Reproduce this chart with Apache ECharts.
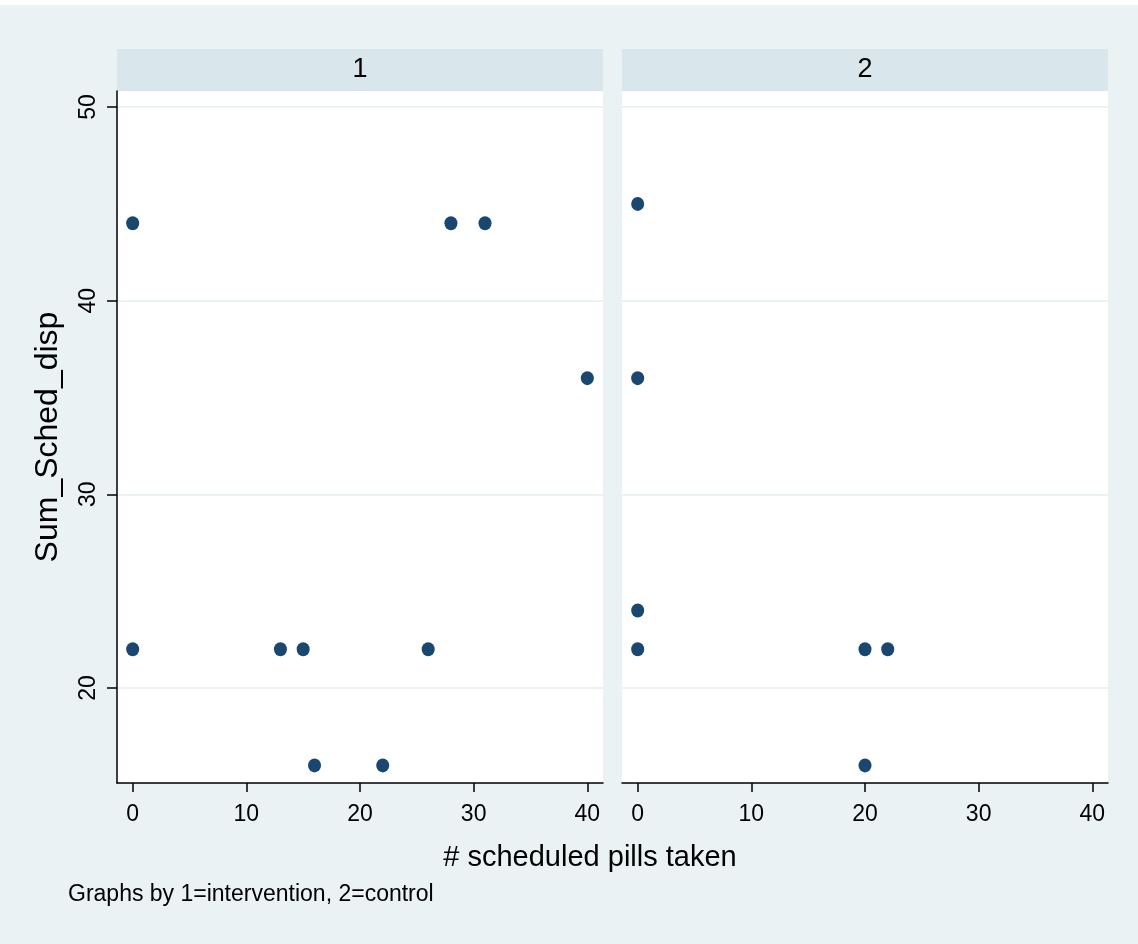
<!DOCTYPE html>
<html>
<head>
<meta charset="utf-8">
<script src="https://cdn.jsdelivr.net/npm/echarts@6/dist/echarts.min.js"></script>
<style>
html,body{margin:0;padding:0;background:#ffffff;}
#wrap{position:absolute;left:0;top:0;width:1138px;height:944px;background:#ffffff;}
#chart{position:absolute;left:0;top:5px;width:1138px;height:939px;}
</style>
</head>
<body>
<div id="wrap"><div id="chart"></div></div>
<script>
// Panel labels
const panels = ['1', '2'];
// Panel 1 (intervention): x = # scheduled pills taken, y = Sum_Sched_disp
const interventionX = [0, 28, 31, 40, 0, 13, 15, 26, 16, 22];
const interventionY = [44, 44, 44, 36, 22, 22, 22, 22, 16, 16];
// Panel 2 (control)
const controlX = [0, 0, 0, 0, 20, 22, 20];
const controlY = [45, 36, 24, 22, 22, 22, 16];
// Tick labels
const xTicks = [0, 10, 20, 30, 40];
const yTicks = [20, 30, 40, 50];
const xTitle = '# scheduled pills taken';
const yTitle = 'Sum_Sched_disp';
const note = 'Graphs by 1=intervention, 2=control';

const FONT = '"Liberation Sans", Arial, Helvetica, sans-serif';
const BG = '#eaf2f3';
const STRIP = '#d9e6eb';
const MARK = '#1a476f';

const chart = echarts.init(document.getElementById('chart'), null, {renderer: 'canvas'});

const gridTop = 86, gridH = 692, gridW = 486;
const lefts = [117, 622];

function xAxisFor(i) {
  return {
    type: 'value', gridIndex: i, min: -1.38, max: 41.38,
    axisLine: {show: true, onZero: false, lineStyle: {color: '#000', width: 1.5}},
    axisTick: {show: true, length: 9, customValues: xTicks, lineStyle: {color: '#000', width: 1.5}},
    axisLabel: {show: true, customValues: xTicks, margin: 20, color: '#000', fontFamily: FONT, fontSize: 23},
    splitLine: {show: false}
  };
}
function yAxisFor(i) {
  return {
    type: 'value', gridIndex: i, min: 15.09, max: 50.83,
    axisLine: {show: i === 0, onZero: false, lineStyle: {color: '#000', width: 1.5}},
    axisTick: {show: i === 0, length: 10, customValues: yTicks, lineStyle: {color: '#000', width: 1.5}},
    axisLabel: {show: i === 0, customValues: yTicks, rotate: 90, margin: 17, color: '#000', fontFamily: FONT, fontSize: 23},
    splitLine: {show: true, lineStyle: {color: BG, width: 2}},
    name: i === 0 ? yTitle : '',
    nameLocation: 'middle', nameGap: 53, nameRotate: 90,
    nameTextStyle: {color: '#000', fontFamily: FONT, fontSize: 32}
  };
}

const option = {
  backgroundColor: BG,
  animation: false,
  grid: lefts.map(l => ({left: l, top: gridTop, width: gridW, height: gridH, show: true, backgroundColor: '#ffffff', borderWidth: 0})),
  xAxis: [xAxisFor(0), xAxisFor(1)],
  yAxis: [yAxisFor(0), yAxisFor(1)],
  graphic: [
    ...lefts.map((l, i) => ({type: 'rect', left: l, top: 44, shape: {width: gridW, height: 42}, style: {fill: STRIP}, z: 0})),
    ...lefts.map((l, i) => ({type: 'text', x: l + gridW / 2, y: 65, style: {text: panels[i], fill: '#000', font: '27px ' + FONT, align: 'center', verticalAlign: 'middle'}, z: 1})),
    {type: 'text', x: 590, y: 853, style: {text: xTitle, fill: '#000', font: '29px ' + FONT, align: 'center', verticalAlign: 'middle'}},
    {type: 'text', x: 68, y: 890, style: {text: note, fill: '#000', font: '23px ' + FONT, align: 'left', verticalAlign: 'middle'}}
  ],
  series: [
    {type: 'scatter', xAxisIndex: 0, yAxisIndex: 0, symbol: 'circle', symbolSize: [13, 14],
     itemStyle: {color: MARK, opacity: 1}, data: interventionX.map((x, k) => [x, interventionY[k]])},
    {type: 'scatter', xAxisIndex: 1, yAxisIndex: 1, symbol: 'circle', symbolSize: [13, 14],
     itemStyle: {color: MARK, opacity: 1}, data: controlX.map((x, k) => [x, controlY[k]])}
  ]
};
chart.setOption(option);
</script>
</body>
</html>
